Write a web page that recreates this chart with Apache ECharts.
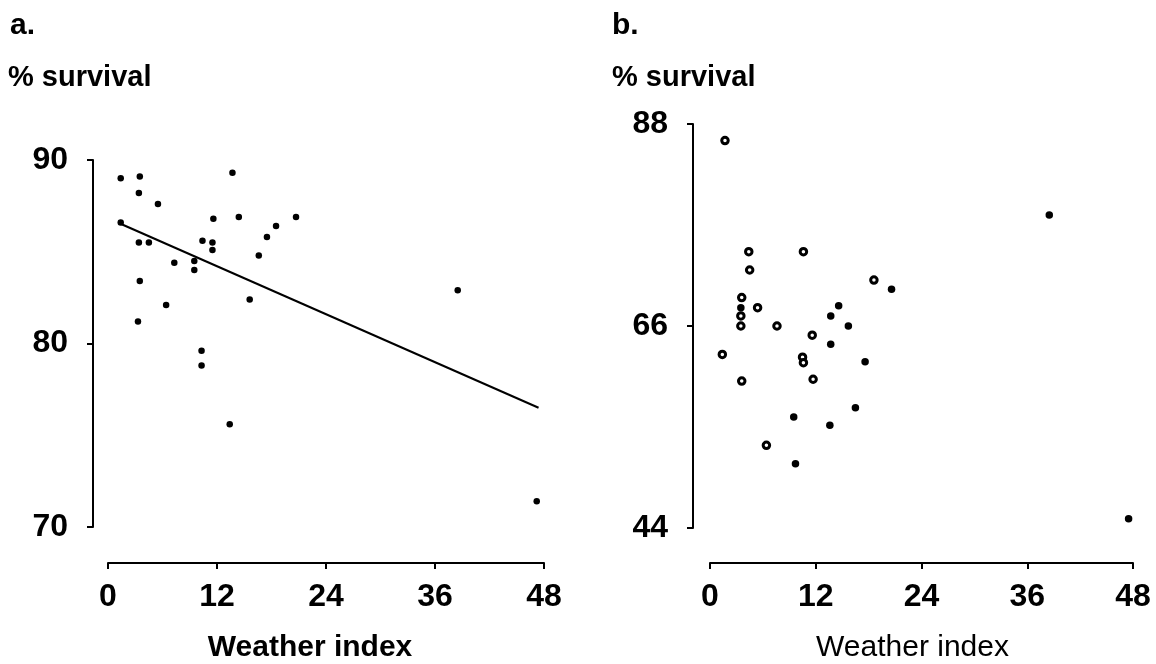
<!DOCTYPE html>
<html>
<head>
<meta charset="utf-8">
<script src="https://cdn.jsdelivr.net/npm/echarts@6/dist/echarts.min.js"></script>
<style>
  html, body { margin: 0; padding: 0; background: #fff; }
  #chart { width: 1156px; height: 664px; }
</style>
</head>
<body>
<div id="chart"></div>
<script>
// Panel a: survival vs weather index, with fitted regression line
const weatherA = [1.4, 3.5, 13.7, 3.4, 5.5, 11.6, 14.4, 20.7, 1.4, 18.5, 17.5, 3.4, 4.5, 10.4, 11.5,
                  11.5, 16.6, 7.3, 9.5, 9.5, 15.6, 3.5, 6.4, 3.3, 10.3, 10.3, 13.4, 47.2, 38.5];
const survivalA = [89.0, 89.1, 89.3, 88.2, 87.6, 86.8, 86.9, 86.9, 86.6, 86.4, 85.8, 85.5, 85.5, 85.6, 85.5,
                   85.1, 84.8, 84.4, 84.5, 84.0, 82.4, 83.4, 82.1, 81.2, 79.6, 78.8, 75.6, 71.4, 82.9];
const fitLineX = [1.5, 47.4];
const fitLineY = [86.5, 76.5];

// Panel b: survival vs weather index (two marker styles)
const weatherBOpen = [1.7, 10.6, 4.4, 4.5, 18.6, 3.6, 3.5, 3.5, 7.6, 5.4, 11.6, 1.4, 10.5, 10.6, 3.6, 11.7, 6.4];
const survivalBOpen = [86.2, 74.1, 74.1, 72.1, 71.0, 69.1, 67.1, 66.0, 66.0, 68.0, 65.0, 62.9, 62.6, 62.0, 60.0, 60.2, 53.0];
const weatherBFilled = [20.6, 3.5, 14.6, 13.7, 15.7, 13.7, 17.6, 16.5, 9.5, 13.6, 9.7, 47.5, 38.5];
const survivalBFilled = [70.0, 68.0, 68.2, 67.1, 66.0, 64.0, 62.1, 57.1, 56.1, 55.2, 51.0, 45.0, 78.1];

// Axis ticks
const xTicks = [0, 12, 24, 36, 48];
const yTicksA = [70, 80, 90];
const yTicksB = [44, 66, 88];

const FONT = '"Liberation Sans", Arial, Helvetica, sans-serif';
const pairs = (xs, ys) => xs.map((x, i) => [x, ys[i]]);

function xAxisFor(grid, offset, namePad, weight) {
  return {
    gridIndex: grid, type: 'value',
    min: xTicks[0], max: xTicks[xTicks.length - 1], interval: xTicks[1] - xTicks[0],
    offset: offset,
    axisLine: { show: true, onZero: false, lineStyle: { color: '#000', width: 2 } },
    axisTick: { show: true, length: 6, lineStyle: { color: '#000', width: 2 } },
    axisLabel: { margin: 18, fontSize: 32, fontWeight: 'bold', color: '#000', fontFamily: FONT },
    splitLine: { show: false },
    name: 'Weather index', nameLocation: 'middle', nameGap: 70,
    nameTextStyle: { fontSize: 30, fontWeight: weight, color: '#000', fontFamily: FONT, padding: namePad }
  };
}

function yAxisFor(grid, ticks, offset) {
  return {
    gridIndex: grid, type: 'value',
    min: ticks[0], max: ticks[ticks.length - 1], interval: ticks[1] - ticks[0],
    offset: offset,
    axisLine: { show: true, onZero: false, lineStyle: { color: '#000', width: 2 } },
    axisTick: { show: true, length: 6, lineStyle: { color: '#000', width: 2 } },
    axisLabel: { margin: 25, fontSize: 32, fontWeight: 'bold', color: '#000', fontFamily: FONT },
    splitLine: { show: false }
  };
}

const chart = echarts.init(document.getElementById('chart'));
chart.setOption({
  animation: false,
  backgroundColor: '#fff',
  graphic: [
    { type: 'text', left: 10, top: 11, style: { text: 'a.', font: 'bold 30px ' + FONT, fill: '#000' } },
    { type: 'text', left: 8, top: 63, style: { text: '% survival', font: 'bold 29px ' + FONT, fill: '#000' } },
    { type: 'text', left: 612, top: 11, style: { text: 'b.', font: 'bold 30px ' + FONT, fill: '#000' } },
    { type: 'text', left: 612, top: 63, style: { text: '% survival', font: 'bold 29px ' + FONT, fill: '#000' } }
  ],
  grid: [
    { left: 108, top: 160, width: 436, height: 367, containLabel: false, outerBoundsMode: 'none' },
    { left: 710, top: 124, width: 423, height: 404, containLabel: false, outerBoundsMode: 'none' }
  ],
  xAxis: [
    xAxisFor(0, 36, [0, 32, 0, 0], 'bold'),
    xAxisFor(1, 35, [0, 18, 0, 0], 'normal')
  ],
  yAxis: [
    yAxisFor(0, yTicksA, 15),
    yAxisFor(1, yTicksB, 17)
  ],
  series: [
    {
      type: 'scatter', xAxisIndex: 0, yAxisIndex: 0,
      data: pairs(weatherA, survivalA),
      symbol: 'circle', symbolSize: 6.5,
      itemStyle: { color: '#000', opacity: 1 }
    },
    {
      type: 'line', xAxisIndex: 0, yAxisIndex: 0,
      data: pairs(fitLineX, fitLineY),
      showSymbol: false, symbol: 'none',
      lineStyle: { color: '#000', width: 2 }
    },
    {
      type: 'scatter', xAxisIndex: 1, yAxisIndex: 1,
      data: pairs(weatherBOpen, survivalBOpen),
      symbol: 'circle', symbolSize: 6.5,
      itemStyle: { color: '#fff', borderColor: '#000', borderWidth: 3, opacity: 1 }
    },
    {
      type: 'scatter', xAxisIndex: 1, yAxisIndex: 1,
      data: pairs(weatherBFilled, survivalBFilled),
      symbol: 'circle', symbolSize: 7.5,
      itemStyle: { color: '#000', opacity: 1 }
    }
  ]
});
</script>
</body>
</html>
